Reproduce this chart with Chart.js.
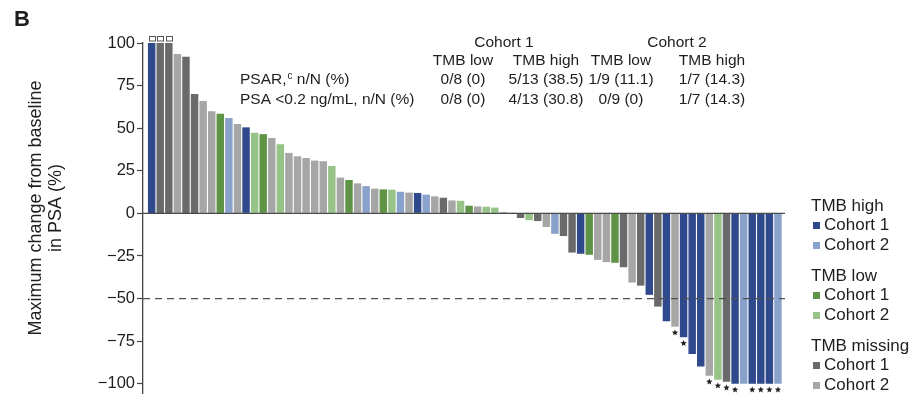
<!DOCTYPE html>
<html>
<head>
<meta charset="utf-8">
<script src="https://cdn.jsdelivr.net/npm/chart.js@4.4.1/dist/chart.umd.min.js"></script>
<style>
  html, body { margin: 0; padding: 0; background: #ffffff; overflow: hidden; }
  #wrap { width: 915px; height: 394px; position: relative; }
</style>
</head>
<body>
<div id="wrap"><canvas id="waterfall" width="915" height="394"></canvas></div>
<script>
// Patient group per bar: H = TMB high, L = TMB low, M = TMB missing; 1/2 = cohort
const GROUPS = [
  'H1','M1','M1','M2','M1','M1','M2','M2','L1','H2',
  'M2','H1','L2','L1','M2','L2','M2','M2','M2','M2',
  'M2','L2','M2','L1','M2','H2','M2','L1','L2','H2',
  'M2','H1','H2','M2','M1','M2','L2','L1','M2','L2',
  'L2','M2','L2','M1','L2','M1','M2','H2','M1','M1',
  'H1','L1','M2','M2','L1','M1','M2','M1','H1','M1',
  'H1','M2','H1','H1','H1','M2','L2','M1','H1','H2',
  'H1','H1','H1','H2'
];

// Maximum change from baseline in PSA (%), one value per patient
const PSA_CHANGE = [
  100, 100, 100, 93.5, 92, 70, 66, 60, 58.5, 56,
  52.5, 50.5, 47.3, 46.5, 44.3, 40.6, 35.5, 33.5, 32.5, 31,
  30.6, 27.8, 21, 19.6, 17.6, 16, 14.5, 14.1, 13.9, 12.7,
  12.2, 12, 11, 10, 9.2, 7.6, 7.4, 4.5, 4.1, 3.9,
  3.4, 0.8, 0.5, -2.7, -4, -4.5, -8, -12, -13.3, -23,
  -23.7, -24.3, -27.3, -28.6, -29, -31.6, -40.6, -42.4, -47.8, -54.7,
  -63.3, -66.5, -72.7, -82.5, -89.8, -95.3, -97.6, -98.8, -100, -100,
  -100, -100, -100, -100
];

// Patients (1-based bar number) marked with a star and with an open square
const STAR_PATIENTS = [62, 63, 66, 67, 68, 69, 71, 72, 73, 74];
const CAPPED_PATIENTS = [1, 2, 3];

const Y_TICKS = [-100, -75, -50, -25, 0, 25, 50, 75, 100];
const RESPONSE_THRESHOLD = -50;

// Summary table
const TABLE_COHORTS = ['Cohort 1', 'Cohort 2'];
const TABLE_COLUMNS = ['TMB low', 'TMB high', 'TMB low', 'TMB high'];
const ROW_PSAR = ['0/8 (0)', '5/13 (38.5)', '1/9 (11.1)', '1/7 (14.3)'];
const ROW_PSA02 = ['0/8 (0)', '4/13 (30.8)', '0/9 (0)', '1/7 (14.3)'];

// Legend groups
const LEGEND_GROUPS = [
  { title: 'TMB high', items: [['H1', 'Cohort 1'], ['H2', 'Cohort 2']] },
  { title: 'TMB low', items: [['L1', 'Cohort 1'], ['L2', 'Cohort 2']] },
  { title: 'TMB missing', items: [['M1', 'Cohort 1'], ['M2', 'Cohort 2']] }
];

const COLORS = {
  H1: '#2f4a8c',
  H2: '#89a2cb',
  L1: '#5f9447',
  L2: '#98c388',
  M1: '#6a6a6a',
  M2: '#a6a6a6'
};

const FONT = '"Liberation Sans", Arial, Helvetica, sans-serif';
const TEXT = '#1e1e1e';

function drawStar(ctx, cx, cy, r) {
  const inner = r * 0.45;
  ctx.beginPath();
  for (let i = 0; i < 10; i++) {
    const rad = i % 2 === 0 ? r : inner;
    const ang = -Math.PI / 2 + i * Math.PI / 5;
    const px = cx + rad * Math.cos(ang);
    const py = cy + rad * Math.sin(ang);
    if (i === 0) ctx.moveTo(px, py); else ctx.lineTo(px, py);
  }
  ctx.closePath();
  ctx.fill();
}

const overlay = {
  id: 'overlay',
  afterDatasetsDraw(chart) {
    const { ctx, chartArea: a, scales: { y } } = chart;
    const meta = chart.getDatasetMeta(0);
    ctx.save();

    // zero line
    const y0 = y.getPixelForValue(0);
    ctx.strokeStyle = '#4a4a4a';
    ctx.lineWidth = 1.4;
    ctx.beginPath();
    ctx.moveTo(a.left, y0);
    ctx.lineTo(a.right, y0);
    ctx.stroke();

    // response threshold
    const yr = y.getPixelForValue(RESPONSE_THRESHOLD);
    ctx.setLineDash([7, 5]);
    ctx.strokeStyle = '#505050';
    ctx.lineWidth = 1.3;
    ctx.beginPath();
    ctx.moveTo(a.left, yr);
    ctx.lineTo(a.right, yr);
    ctx.stroke();
    ctx.setLineDash([]);

    // stars below bars
    ctx.fillStyle = '#222';
    STAR_PATIENTS.forEach(n => {
      const el = meta.data[n - 1];
      drawStar(ctx, el.x, el.y + 6, 3.3);
    });

    // open squares above capped bars
    ctx.strokeStyle = '#555';
    ctx.lineWidth = 1;
    CAPPED_PATIENTS.forEach(n => {
      const el = meta.data[n - 1];
      ctx.strokeRect(Math.round(el.x - 3) + 0.5, Math.round(el.y - 7) + 0.5, 6, 4.5);
    });
    ctx.restore();
  },
  afterDraw(chart) {
    const ctx = chart.ctx;
    ctx.save();
    ctx.fillStyle = TEXT;

    // panel letter
    ctx.font = 'bold 22px ' + FONT;
    ctx.textAlign = 'left';
    ctx.textBaseline = 'middle';
    ctx.fillText('B', 14, 20);

    // y axis title
    ctx.save();
    ctx.translate(46, 208);
    ctx.rotate(-Math.PI / 2);
    ctx.font = '18px ' + FONT;
    ctx.textAlign = 'center';
    ctx.textBaseline = 'middle';
    ctx.fillText('Maximum change from baseline', 0, -10);
    ctx.fillText('in PSA (%)', 0, 10);
    ctx.restore();

    // table
    ctx.font = '15.5px ' + FONT;
    ctx.textBaseline = 'middle';
    ctx.textAlign = 'center';
    const colX = [463, 546, 621, 712];
    const cohortX = [504, 677];
    const rowY = [43, 61, 80, 100];
    TABLE_COHORTS.forEach((c, i) => ctx.fillText(c, cohortX[i], rowY[0]));
    TABLE_COLUMNS.forEach((c, i) => ctx.fillText(c, colX[i], rowY[1]));
    ROW_PSAR.forEach((c, i) => ctx.fillText(c, colX[i], rowY[2]));
    ROW_PSA02.forEach((c, i) => ctx.fillText(c, colX[i], rowY[3]));

    ctx.textAlign = 'left';
    let x = 240;
    ctx.fillText('PSAR,', x, rowY[2]);
    x += ctx.measureText('PSAR,').width + 1;
    ctx.font = '10px ' + FONT;
    ctx.fillText('c', x, rowY[2] - 4);
    x += ctx.measureText('c').width;
    ctx.font = '15.5px ' + FONT;
    ctx.fillText(' n/N (%)', x, rowY[2]);
    ctx.fillText('PSA <0.2 ng/mL, n/N (%)', 240, rowY[3]);

    // legend
    ctx.font = '17px ' + FONT;
    ctx.textAlign = 'left';
    ctx.textBaseline = 'middle';
    LEGEND_GROUPS.forEach((g, gi) => {
      const top = 206.5 + gi * 70;
      ctx.fillStyle = TEXT;
      ctx.fillText(g.title, 811, top);
      g.items.forEach(([key, label], ii) => {
        const cy = top + 19 + ii * 20;
        ctx.fillStyle = COLORS[key];
        ctx.fillRect(813, cy - 3.5, 7, 7);
        ctx.fillStyle = TEXT;
        ctx.fillText(label, 824, cy);
      });
    });
    ctx.restore();
  }
};

new Chart(document.getElementById('waterfall'), {
  type: 'bar',
  data: {
    datasets: [{
      data: PSA_CHANGE.map((v, i) => ({ x: i + 1, y: v })),
      backgroundColor: GROUPS.map(g => COLORS[g]),
      borderWidth: 0,
      barPercentage: 0.87,
      categoryPercentage: 1
    }]
  },
  options: {
    responsive: false,
    animation: false,
    devicePixelRatio: 1,
    layout: { padding: { left: 0, right: 130, top: 43, bottom: 0 } },
    plugins: { legend: { display: false }, tooltip: { enabled: false } },
    scales: {
      x: { type: 'linear', min: -0.01, max: 74.82, offset: false, display: false },
      y: {
        min: -106,
        max: 100,
        afterBuildTicks: s => { s.ticks = Y_TICKS.map(v => ({ value: v })); },
        afterFit: s => { s.width = 143; s.paddingTop = 0; s.paddingBottom = 0; },
        ticks: {
          padding: 2,
          color: TEXT,
          font: { family: FONT, size: 16.5 },
          callback: v => String(v).replace('-', '\u2212')
        },
        grid: { drawOnChartArea: false, tickLength: 6, tickColor: '#444', tickWidth: 1.2 },
        border: { color: '#444', width: 1.3 }
      }
    }
  },
  plugins: [overlay]
});
</script>
</body>
</html>
